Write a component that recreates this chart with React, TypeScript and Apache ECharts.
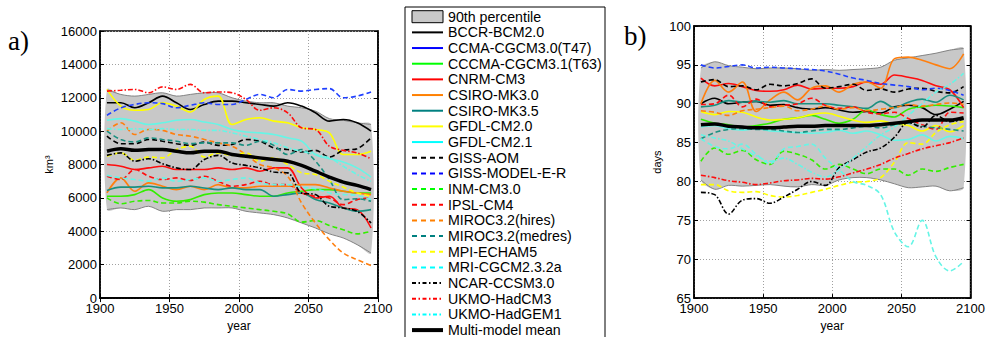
import React, { useEffect, useRef } from "react";
import * as echarts from "echarts";

const YEARS = [1905, 1915, 1925, 1935, 1945, 1955, 1965, 1975, 1985, 1995, 2005, 2015, 2025, 2035, 2045, 2055, 2065, 2075, 2085, 2095];

const MODELS = [
  "BCCR-BCM2.0", "CCMA-CGCM3.0(T47)", "CCCMA-CGCM3.1(T63)", "CNRM-CM3", "CSIRO-MK3.0", "CSIRO-MK3.5",
  "GFDL-CM2.0", "GFDL-CM2.1", "GISS-AOM", "GISS-MODEL-E-R", "INM-CM3.0", "IPSL-CM4",
  "MIROC3.2(hires)", "MIROC3.2(medres)", "MPI-ECHAM5", "MRI-CGCM2.3.2a", "NCAR-CCSM3.0", "UKMO-HadCM3", "UKMO-HadGEM1",
];

// ---- panel a) volume, km3 ----
const A_UP = [12500, 12200, 12100, 12200, 12300, 12100, 12200, 12300, 12300, 12000, 11800, 11700, 11700, 11500, 11400, 11200, 10750, 10650, 10500, 10400];
const A_LO = [5300, 5400, 5300, 5500, 5200, 5300, 5300, 5400, 5400, 5400, 5200, 5100, 5000, 4800, 4500, 4200, 3850, 3600, 3200, 2700];
const A_MEAN = [8800, 8950, 8850, 8900, 8900, 8800, 8700, 8800, 8800, 8600, 8500, 8400, 8300, 8200, 7950, 7600, 7250, 6950, 6750, 6500];
const A_BCCR = [11700, 11700, 11400, 11700, 12100, 11700, 11300, 11600, 11800, 11800, 11700, 11600, 11500, 11700, 11500, 11100, 10600, 10700, 10500, 10000];
const A_CGCM30: number[] = [];
const A_CGCM31 = [6100, 6100, 6200, 6500, 6000, 5800, 5900, 6200, 6300, 6300, 6200, 6100, 6100, 6300, 6400, 6500, 6500, 6400, 6300, 6300];
const A_CNRM = [8000, 7900, 7700, 7800, 7900, 7700, 7700, 7700, 7800, 7700, 7800, 7600, 7800, 7800, 6600, 6000, 6100, 5400, 5300, 4200];
const A_MK30 = [6300, 7200, 6400, 6900, 6700, 6500, 6700, 6500, 6800, 6600, 6600, 6700, 6700, 6700, 6800, 6800, 6600, 6400, 6300, 6200];
const A_MK35 = [6450, 6650, 6650, 6700, 6600, 6600, 6700, 6600, 6500, 6600, 6500, 6500, 6100, 6200, 6300, 5900, 5700, 5400, 5200, 5300];
const A_CM20 = [12500, 11500, 11250, 11300, 11700, 11500, 11150, 11900, 12100, 10400, 10700, 10800, 10600, 10500, 10200, 10100, 9900, 8600, 8600, 8800];
const A_CM21 = [10650, 10750, 10600, 10400, 10500, 10650, 10700, 10550, 10400, 10100, 9950, 9900, 9800, 9600, 9400, 8600, 8350, 8150, 7800, 7250];
const A_AOM = [9700, 9250, 9250, 9500, 9400, 9250, 9150, 9350, 9150, 9200, 9500, 9400, 9000, 8900, 8750, 8850, 8450, 8850, 8950, 9600];
const A_GISS = [10950, 11400, 11600, 11700, 11650, 11400, 11550, 11700, 11600, 11600, 11900, 12200, 12000, 12500, 12400, 12500, 12550, 12000, 12100, 12350];
const A_INM = [6000, 5650, 5800, 5850, 5700, 5700, 5800, 5750, 5600, 5500, 5400, 5300, 5200, 5050, 4550, 4650, 4350, 4100, 3850, 4000];
const A_IPSL = [7300, 7100, 7700, 7300, 7100, 7200, 7050, 7300, 7000, 6700, 6800, 7000, 6800, 6800, 6300, 6100, 6000, 5600, 5900, 6000];
const A_MIROCH = [10000, 10500, 9800, 10100, 10050, 9800, 9700, 9500, 9300, 9100, 8600, 8000, 7800, 7300, 5700, 4500, 3500, 2700, 2300, 1950];
const A_MIROCM = [10000, 9500, 9350, 9600, 9500, 9400, 9250, 9300, 9300, 9300, 9150, 9400, 9150, 8600, 8900, 8200, 7100, 5900, 5950, 5800];
const A_MPI = [8500, 8700, 8250, 8450, 8400, 8900, 9100, 8450, 8700, 8550, 8700, 8200, 8400, 8000, 7500, 7400, 7000, 6650, 6300, 6100];
const A_MRI = [7350, 7200, 7100, 7000, 7200, 7000, 7100, 7200, 7000, 7100, 7200, 6900, 6800, 6800, 6650, 6550, 6300, 6200, 6150, 5900];
const A_NCAR = [8550, 8700, 8200, 8350, 8050, 7800, 7700, 8300, 8550, 8100, 7950, 7800, 7550, 7500, 6300, 6200, 5500, 5400, 5200, 4500];
const A_HADCM3 = [12400, 12450, 12500, 12300, 12650, 12500, 12800, 12300, 12350, 12300, 11900, 11250, 11400, 11100, 10200, 10100, 9100, 8850, 8700, 8350];
const A_HADGEM = [10150, 10100, 10150, 10100, 10150, 10100, 10100, 10050, 10050, 9900, 9700, 9500, 9300, 9000, 8800, 8600, 8400, 7900, 7400, 7000];

// ---- panel b) days ----
const B_UP = [94.6, 95.4, 94.9, 94.7, 94.5, 94.6, 94.6, 94.5, 94.3, 94.4, 94.3, 94.4, 94.5, 94.7, 95.6, 95.9, 96.2, 96.5, 96.9, 97.1];
const B_LO = [80.2, 79.0, 79.5, 79.4, 79.5, 79.6, 79.4, 79.3, 79.6, 79.5, 80.2, 80.5, 80.5, 80.2, 79.7, 79.2, 79.3, 79.4, 78.8, 79.2];
const B_MEAN = [87.3, 87.4, 87.1, 87.0, 86.9, 86.9, 87.0, 87.1, 87.1, 87.2, 87.2, 87.2, 87.2, 87.3, 87.5, 87.7, 87.9, 87.9, 87.9, 88.2];
const B_BCCR = [90.0, 90.7, 90.0, 90.2, 90.3, 89.8, 89.9, 89.5, 89.3, 89.5, 89.2, 88.9, 89.0, 88.8, 89.6, 89.8, 89.5, 88.6, 89.3, 90.3];
const B_CGCM30: number[] = [];
const B_CGCM31 = [88.0, 87.5, 87.3, 87.0, 87.2, 87.5, 88.0, 88.2, 88.5, 88.0, 87.5, 88.0, 89.2, 88.6, 88.3, 89.3, 89.6, 89.8, 89.7, 89.5];
const B_CNRM = [93.3, 92.3, 92.6, 92.2, 91.7, 91.6, 91.8, 92.4, 91.9, 92.0, 92.0, 92.2, 92.8, 92.5, 93.7, 93.4, 93.0, 92.3, 91.8, 89.5];
const B_MK30 = [90.0, 93.0, 91.5, 92.8, 89.0, 90.5, 91.5, 90.5, 92.0, 92.3, 91.5, 92.5, 92.8, 92.0, 95.8, 96.0, 95.6, 95.0, 94.5, 96.4];
const B_MK35 = [89.6, 89.8, 90.4, 90.2, 90.3, 90.2, 90.4, 90.0, 90.0, 90.0, 89.8, 89.6, 89.4, 90.3, 89.5, 90.2, 90.6, 90.2, 91.1, 90.5];
const B_CM20 = [89.0, 88.6, 89.0, 88.9, 88.3, 87.9, 88.0, 88.2, 88.6, 88.8, 88.4, 87.9, 87.6, 87.8, 87.4, 87.2, 86.5, 87.2, 86.4, 87.2];
const B_CM21 = [87.0, 87.2, 86.8, 86.6, 86.8, 86.5, 86.4, 86.3, 86.2, 86.3, 86.6, 86.2, 86.5, 86.0, 85.3, 85.4, 86.0, 85.2, 85.8, 85.5];
const B_AOM = [92.8, 93.1, 92.2, 92.3, 91.8, 92.5, 92.3, 92.6, 93.2, 92.0, 92.2, 92.5, 91.7, 91.9, 91.5, 91.9, 92.0, 91.6, 91.4, 92.2];
const B_GISS = [95.0, 94.6, 94.8, 95.0, 94.6, 94.7, 94.6, 94.5, 94.4, 94.2, 93.8, 93.3, 93.0, 92.6, 92.4, 92.2, 91.8, 92.0, 91.7, 91.1];
const B_INM = [82.6, 84.3, 83.5, 84.0, 82.8, 82.2, 83.9, 83.5, 82.8, 81.6, 82.2, 81.6, 81.0, 81.6, 81.6, 80.8, 81.6, 81.3, 81.8, 82.2];
const B_IPSL = [89.9, 90.0, 91.1, 89.6, 90.6, 89.6, 89.8, 90.0, 90.7, 89.8, 89.4, 89.6, 88.9, 88.7, 88.9, 88.1, 87.3, 86.7, 88.9, 88.8];
const B_MIROCH = [89.1, 88.9, 88.5, 89.1, 89.3, 89.5, 89.7, 89.1, 89.3, 89.7, 89.3, 89.5, 89.1, 89.3, 89.5, 89.9, 89.7, 89.9, 90.1, 89.9];
const B_MIROCM = [85.5, 86.3, 86.7, 86.8, 86.7, 86.7, 86.5, 86.3, 86.5, 86.7, 86.7, 86.9, 87.1, 86.9, 87.3, 87.5, 87.1, 86.9, 86.7, 86.5];
const B_MPI = [79.6, 79.6, 78.8, 78.6, 78.7, 78.2, 78.0, 78.2, 78.6, 79.0, 79.5, 79.9, 80.0, 80.5, 82.5, 85.0, 84.8, 86.3, 87.3, 87.7];
const B_MRI = [85.5, 84.5, 84.2, 84.8, 83.5, 82.3, 84.2, 84.5, 84.8, 83.0, 81.5, 80.0, 79.5, 78.3, 73.5, 71.6, 75.0, 70.3, 68.5, 69.7];
const B_NCAR = [78.6, 78.3, 75.8, 77.6, 77.8, 77.2, 78.0, 79.0, 80.0, 79.5, 81.8, 82.8, 83.8, 84.3, 85.7, 87.6, 87.0, 88.5, 87.7, 88.0];
const B_HADCM3 = [80.8, 80.5, 80.1, 79.9, 79.6, 79.8, 80.1, 80.2, 80.4, 80.3, 80.6, 81.1, 81.6, 82.2, 83.0, 83.6, 84.2, 84.6, 85.0, 85.6];
const B_HADGEM = [86.0, 85.6, 85.2, 84.2, 83.3, 82.6, 83.0, 82.2, 81.2, 80.6, 81.5, 83.0, 84.5, 86.0, 87.0, 88.5, 90.0, 91.5, 92.5, 93.9];

const A_SERIES = [A_BCCR, A_CGCM30, A_CGCM31, A_CNRM, A_MK30, A_MK35, A_CM20, A_CM21, A_AOM, A_GISS, A_INM, A_IPSL, A_MIROCH, A_MIROCM, A_MPI, A_MRI, A_NCAR, A_HADCM3, A_HADGEM];
const B_SERIES = [B_BCCR, B_CGCM30, B_CGCM31, B_CNRM, B_MK30, B_MK35, B_CM20, B_CM21, B_AOM, B_GISS, B_INM, B_IPSL, B_MIROCH, B_MIROCM, B_MPI, B_MRI, B_NCAR, B_HADCM3, B_HADGEM];

const X_TICKS = { min: 1900, max: 2100, interval: 50 };
const A_TICKS = { min: 0, max: 16000, interval: 2000 };
const B_TICKS = { min: 65, max: 100, interval: 5 };

// styles (not data)
const C = {
  black: "#000000", blue: "#1f3fff", green: "#33ee00", red: "#ff0d0d", orange: "#ff7f0e",
  teal: "#1a9080", yellow: "#ffff00", cyan: "#66f5e6",
};
const LC = {
  black: "#000000", blue: "#0000ff", green: "#00ff00", red: "#ff0000", orange: "#ff8000",
  teal: "#008080", yellow: "#ffff00", cyan: "#00ffff",
};
const STYLE: [keyof typeof C, string][] = [
  ["black", "solid"], ["blue", "solid"], ["green", "solid"], ["red", "solid"], ["orange", "solid"], ["teal", "solid"],
  ["yellow", "solid"], ["cyan", "solid"], ["black", "dash"], ["blue", "dash"], ["green", "dash"], ["red", "dash"],
  ["orange", "dash"], ["teal", "dash"], ["yellow", "dash"], ["cyan", "dash"], ["black", "dashdot"], ["red", "dashdot"], ["cyan", "dashdot"],
];
const PLOT_DASH: Record<string, any> = { solid: "solid", dash: [5, 3], dashdot: [5, 2, 1.5, 2] };
const LEG_DASH: Record<string, any> = { solid: null, dash: [5, 4], dashdot: [4, 2.5, 1.5, 2.5] };

const FONT = "Liberation Sans";

function pairs(vals: number[]) {
  return vals.map((v, i) => [YEARS[i], v]);
}

function bandSeries(lo: number[], up: number[], idx: number) {
  return {
    type: "custom", xAxisIndex: idx, yAxisIndex: idx, silent: true, z: 1,
    data: YEARS.map((y, i) => [y, lo[i], up[i]]),
    encode: { x: 0, y: [1, 2] },
    renderItem: (params: any, api: any) => {
      if (params.dataIndexInside !== 0) return null;
      const n = params.dataInsideLength;
      const top: number[][] = [];
      const bot: number[][] = [];
      for (let i = 0; i < n; i++) {
        top.push(api.coord([api.value(0, i), api.value(2, i)]));
        bot.push(api.coord([api.value(0, i), api.value(1, i)]));
      }
      const poly = top.concat(bot.slice().reverse());
      return {
        type: "group",
        children: [
          { type: "polygon", shape: { points: poly, smooth: 0.3 }, style: { fill: "#c8c8c8", stroke: null } },
          { type: "polyline", shape: { points: top, smooth: 0.3 }, style: { fill: null, stroke: "#777777", lineWidth: 0.9 } },
          { type: "polyline", shape: { points: bot, smooth: 0.3 }, style: { fill: null, stroke: "#777777", lineWidth: 0.9 } },
        ],
      };
    },
  };
}

function modelSeries(all: number[][], mean: number[], idx: number) {
  const out: any[] = [];
  all.forEach((vals, m) => {
    const [col, dash] = STYLE[m];
    out.push({
      type: "line", name: MODELS[m], data: pairs(vals), xAxisIndex: idx, yAxisIndex: idx,
      symbol: "none", smooth: 0.35, silent: true, z: 3,
      lineStyle: { color: C[col], width: 1.6, type: PLOT_DASH[dash] },
    });
  });
  out.push({
    type: "line", name: "Multi-model mean", data: pairs(mean), xAxisIndex: idx, yAxisIndex: idx,
    symbol: "none", smooth: 0.35, silent: true, z: 4, lineStyle: { color: "#000", width: 3.5 },
  });
  return out;
}

const plain = (v: number) => String(v);
const TICK = { inside: true, length: 4, lineStyle: { color: "#000" } };
const GRIDLINE = { show: true, lineStyle: { color: "#a0a0a0", type: [1, 2], width: 1 } };

function xAxis(idx: number) {
  return {
    gridIndex: idx, type: "value", ...X_TICKS,
    axisLabel: { fontSize: 13, color: "#000", fontFamily: FONT, margin: 4, formatter: plain },
    axisTick: TICK,
    axisLine: { lineStyle: { color: "#000", width: 1.5 } },
    splitLine: GRIDLINE,
    name: "year", nameLocation: "middle", nameGap: 19,
    nameTextStyle: { fontSize: 12, color: "#000", fontFamily: FONT, verticalAlign: "top" },
  };
}
function xAxisTop(idx: number) {
  return {
    gridIndex: idx, type: "value", position: "top", ...X_TICKS,
    axisLabel: { show: false }, axisTick: TICK, splitLine: { show: false },
    axisLine: { lineStyle: { color: "#000", width: 1.5 } },
  };
}

function yAxis(idx: number, t: { min: number; max: number; interval: number }, name: string, gap: number) {
  return {
    gridIndex: idx, type: "value", ...t,
    axisLabel: { fontSize: 13, color: "#000", fontFamily: FONT, margin: 3, formatter: plain },
    axisTick: TICK,
    axisLine: { show: true, lineStyle: { color: "#000", width: 1.5 } },
    splitLine: GRIDLINE,
    name, nameLocation: "middle", nameGap: gap, nameRotate: 90,
    nameTextStyle: { fontSize: 11, color: "#000", fontFamily: FONT },
  };
}
function yAxisRight(idx: number, t: { min: number; max: number; interval: number }) {
  return {
    gridIndex: idx, type: "value", position: "right", ...t,
    axisLabel: { show: false }, axisTick: TICK, splitLine: { show: false },
    axisLine: { show: true, lineStyle: { color: "#000", width: 1.5 } },
  };
}

function legendGraphics() {
  const els: any[] = [];
  const x0 = 405, lx1 = 412, lx2 = 443, tx = 448, y0 = 16.7, step = 15.67;
  els.push({ type: "rect", shape: { x: x0, y: 7, width: 200, height: 345 }, style: { fill: "#fff", stroke: "#000", lineWidth: 1 }, z: 10 });
  const names = ["90th percentile", ...MODELS, "Multi-model mean"];
  names.forEach((nm, i) => {
    const cy = y0 + i * step;
    if (i === 0) {
      els.push({ type: "rect", shape: { x: lx1, y: cy - 6, width: lx2 - lx1, height: 12 }, style: { fill: "#c8c8c8", stroke: "#000", lineWidth: 1 }, z: 11 });
    } else if (i === names.length - 1) {
      els.push({ type: "line", shape: { x1: lx1, y1: cy, x2: lx2, y2: cy }, style: { stroke: "#000", lineWidth: 4 }, z: 11 });
    } else {
      const [col, dash] = STYLE[i - 1];
      const st: any = { stroke: LC[col], lineWidth: 2 };
      if (LEG_DASH[dash]) st.lineDash = LEG_DASH[dash];
      els.push({ type: "line", shape: { x1: lx1, y1: cy, x2: lx2, y2: cy }, style: st, z: 11 });
    }
    els.push({
      type: "text", x: tx, y: cy, z: 11,
      style: { text: nm, fill: "#000", fontSize: 14.2, fontFamily: FONT, verticalAlign: "middle", align: "left" },
    });
  });
  els.push({ type: "text", x: 8, y: 41, style: { text: "a)", fill: "#000", fontSize: 27, fontFamily: "Liberation Serif", verticalAlign: "middle" } });
  els.push({ type: "text", x: 624, y: 36, style: { text: "b)", fill: "#000", fontSize: 27, fontFamily: "Liberation Serif", verticalAlign: "middle" } });
  return els;
}

export default function App() {
  const ref = useRef<HTMLDivElement>(null);
  useEffect(() => {
    document.body.style.margin = "0";
    if (!ref.current) return;
    const chart = echarts.init(ref.current, null, { renderer: "svg" });
    chart.setOption({
      animation: false,
      backgroundColor: "#fff",
      textStyle: { fontFamily: FONT },
      grid: [
        { left: 100, top: 31, width: 278, height: 278, show: true, borderColor: "#000", borderWidth: 1.5, backgroundColor: "transparent" },
        { left: 694, top: 26, width: 278, height: 279, show: true, borderColor: "#000", borderWidth: 1.5, backgroundColor: "transparent" },
      ],
      xAxis: [xAxis(0), xAxis(1), xAxisTop(0), xAxisTop(1)],
      yAxis: [yAxis(0, A_TICKS, "km³", 46), yAxis(1, B_TICKS, "days", 32), yAxisRight(0, A_TICKS), yAxisRight(1, B_TICKS)],
      series: [
        bandSeries(A_LO, A_UP, 0),
        ...modelSeries(A_SERIES, A_MEAN, 0),
        bandSeries(B_LO, B_UP, 1),
        ...modelSeries(B_SERIES, B_MEAN, 1),
      ],
      graphic: legendGraphics(),
    });
    return () => chart.dispose();
  }, []);
  return <div ref={ref} style={{ width: 988, height: 337 }} />;
}
